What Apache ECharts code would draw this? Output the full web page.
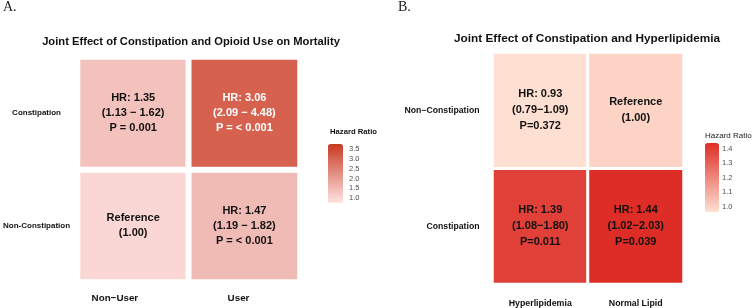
<!DOCTYPE html>
<html>
<head>
<meta charset="utf-8">
<script src="https://cdn.jsdelivr.net/npm/echarts@6.0.0/dist/echarts.min.js"></script>
<style>
  html, body { margin: 0; padding: 0; background: #fff; }
  #chart { width: 753px; height: 308px; }
</style>
</head>
<body>
<div id="chart"></div>
<script>
// panel A: constipation x opioid use
const colsA = ['Non−User', 'User'];
const rowsA = ['Non-Constipation', 'Constipation']; // bottom -> top
const hrA = [[1.00, 1.47], [1.35, 3.06]];            // [row][col]
const txtA = [
  ['Reference\n(1.00)', 'HR: 1.47\n(1.19 − 1.82)\nP = < 0.001'],
  ['HR: 1.35\n(1.13 − 1.62)\nP = 0.001', 'HR: 3.06\n(2.09 − 4.48)\nP = < 0.001']
];
const ticksA = [1.0, 1.5, 2.0, 2.5, 3.0, 3.5];

// panel B: constipation x hyperlipidemia
const colsB = ['Hyperlipidemia', 'Normal Lipid'];
const rowsB = ['Constipation', 'Non−Constipation'];  // bottom -> top
const hrB = [[1.39, 1.44], [0.93, 1.00]];
const txtB = [
  ['HR: 1.39\n(1.08−1.80)\nP=0.011', 'HR: 1.44\n(1.02−2.03)\nP=0.039'],
  ['HR: 0.93\n(0.79−1.09)\nP=0.372', 'Reference\n(1.00)']
];
const ticksB = [1.0, 1.1, 1.2, 1.3, 1.4];

const FONT = '"Liberation Sans", Arial, sans-serif';

function cells(hr, txt, white) {
  const out = [];
  hr.forEach((row, r) => row.forEach((v, c) => {
    out.push({
      value: [c, r, v],
      txt: txt[r][c],
      label: { color: v > white ? '#ffffff' : '#111111' }
    });
  }));
  return out;
}

function catAxes(gi, cols, rows, xl, yl) {
  return {
    x: {
      type: 'category', gridIndex: gi, data: cols,
      axisLine: { show: false }, axisTick: { show: false }, splitLine: { show: false },
      axisLabel: Object.assign({ fontFamily: FONT, fontWeight: 'bold', color: '#111' }, xl)
    },
    y: {
      type: 'category', gridIndex: gi, data: rows,
      axisLine: { show: false }, axisTick: { show: false }, splitLine: { show: false },
      axisLabel: Object.assign({ fontFamily: FONT, fontWeight: 'bold', color: '#111' }, yl)
    }
  };
}

function barAxis(gi, min, max, ticks, margin) {
  return {
    type: 'value', gridIndex: gi, min: min, max: max, z: 10, position: 'right',
    axisLine: { show: false }, splitLine: { show: false },
    axisTick: { show: true, inside: true, length: 3, customValues: ticks,
      lineStyle: { color: 'rgba(255,255,255,0.7)', width: 1 } },
    axisLabel: { customValues: ticks, margin: margin, fontFamily: FONT, fontSize: 7.5,
      color: '#4d4d4d', formatter: v => v.toFixed(1) }
  };
}

const axA = catAxes(0, colsA, rowsA,
  { fontSize: 9.8, margin: 11, align: 'right', padding: [0, -5, 0, 0] },
  { fontSize: 8, margin: 41, align: 'center' });
const axB = catAxes(1, colsB, rowsB,
  { fontSize: 8.8, margin: 15 },
  { fontSize: 8.7, margin: 13 });

const cellLabel = (size, lh) => ({
  show: true, fontFamily: FONT, fontWeight: 'bold', fontSize: size, lineHeight: lh,
  formatter: p => p.data.txt
});

const option = {
  animation: false,
  backgroundColor: '#ffffff',
  grid: [
    { left: 74, top: 57, width: 226, height: 225 },
    { left: 492.5, top: 52.5, width: 191, height: 232 },
    { left: 328, top: 144, width: 15, height: 59 },
    { left: 705, top: 143, width: 14, height: 69 }
  ],
  xAxis: [axA.x, axB.x,
    { type: 'value', gridIndex: 2, show: false },
    { type: 'value', gridIndex: 3, show: false }],
  yAxis: [axA.y, axB.y,
    barAxis(2, 0.75, 3.76, ticksA, 6),
    barAxis(3, 0.965, 1.44, ticksB, 3)],
  visualMap: [
    {
      type: 'continuous', seriesIndex: 0, min: 0.75, max: 3.76, z: 2,
      calculable: false, hoverLink: false, left: 328, top: 144, itemWidth: 15, itemHeight: 59,
      padding: 0, text: null, textStyle: { fontSize: 0 },
      inRange: { color: ['#fee4e4', '#c83921'] }
    },
    {
      type: 'continuous', seriesIndex: 1, min: 0.965, max: 1.44, z: 2,
      calculable: false, hoverLink: false, left: 705, top: 143, itemWidth: 14, itemHeight: 69,
      padding: 0, text: null, textStyle: { fontSize: 0 },
      inRange: { color: ['#fee0d2', '#de2d26'] },
      outOfRange: { color: '#fee0d3' }
    }
  ],
  graphic: [
    { type: 'text', left: 3, top: 0, style: { text: 'A.', font: '14px "Liberation Serif", serif', fill: '#222' } },
    { type: 'text', left: 398, top: 0, style: { text: 'B.', font: '14px "Liberation Serif", serif', fill: '#222' } },
    { type: 'text', x: 191, y: 42, style: { text: 'Joint Effect of Constipation and Opioid Use on Mortality',
      font: 'bold 11.2px ' + FONT, fill: '#111', align: 'center', verticalAlign: 'middle' } },
    { type: 'text', x: 587, y: 39, style: { text: 'Joint Effect of Constipation and Hyperlipidemia',
      font: 'bold 11.8px ' + FONT, fill: '#111', align: 'center', verticalAlign: 'middle' } },
    { type: 'text', x: 330, y: 132, style: { text: 'Hazard Ratio',
      font: 'bold 7.7px ' + FONT, fill: '#111', align: 'left', verticalAlign: 'middle' } },
    { type: 'text', x: 705, y: 136, style: { text: 'Hazard Ratio',
      font: '8px ' + FONT, fill: '#222', align: 'left', verticalAlign: 'middle' } }
  ],
  series: [
    {
      type: 'heatmap', xAxisIndex: 0, yAxisIndex: 0,
      data: cells(hrA, txtA, 2.5),
      itemStyle: { borderColor: '#ffffff', borderWidth: 6 },
      label: cellLabel(11, 15),
      emphasis: { disabled: true }
    },
    {
      type: 'heatmap', xAxisIndex: 1, yAxisIndex: 1,
      data: cells(hrB, txtB, 99),
      itemStyle: { borderColor: '#ffffff', borderWidth: 3 },
      label: cellLabel(11, 16),
      emphasis: { disabled: true }
    }
  ]
};

const chart = echarts.init(document.getElementById('chart'), null, { renderer: 'canvas' });
chart.setOption(option);
</script>
</body>
</html>
